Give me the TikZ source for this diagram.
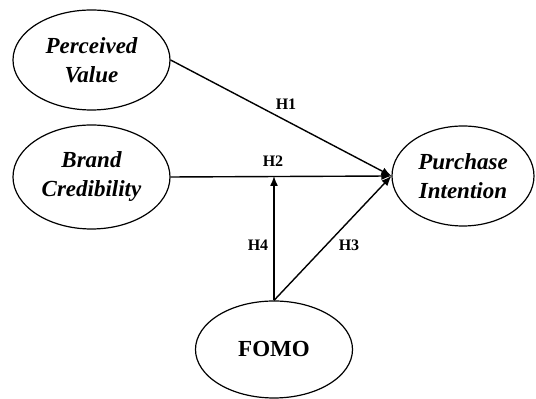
\documentclass[tikz,border=0pt]{standalone}
\usepackage{fontspec}
\setmainfont{Liberation Serif}
\usetikzlibrary{positioning, calc, arrows.meta, shapes.geometric}

\begin{document}
\begin{tikzpicture}[x=0.5pt, y=-0.5pt,
  construct/.style={draw, ellipse, inner sep=0pt, line width=0.6pt, align=center,
    font=\fontsize{11.5}{14.5}\selectfont\bfseries\itshape},
  hyp/.style={font=\fontsize{8}{9}\selectfont\bfseries},
  path/.style={line width=0.7pt, -{Latex[length=5pt, width=4pt]}}] % 1 px = 0.5 pt

\useasboundingbox (0,0) rectangle (536,399);

% constructs
\node[construct, minimum width=78.5pt, minimum height=50pt] (pv) at (91.5,60) {Perceived\\Value};
\node[construct, minimum width=78.5pt, minimum height=52pt] (bc) at (91.5,177) {Brand\\Credibility};
\node[construct, minimum width=71pt, minimum height=50pt] (pi) at (463,176) {Purchase\\Intention};
\node[construct, minimum width=78.5pt, minimum height=48.5pt, font=\fontsize{11.5}{14.5}\selectfont\bfseries] (fomo) at (274,349.5) {FOMO};

% paths
\coordinate (mod) at (fomo.north |- pi.west);
\draw[path] (pv.east) -- (pi.west);
\draw[path] (bc.east) -- (pi.west);
\draw[path] (fomo.north) -- (pi.west);
\draw[path] (fomo.north) -- (mod);

% hypotheses
\node[hyp] (h1) at (286,104) {H1};
\node[hyp] (h2) at (273,161) {H2};
\node[hyp] (h3) at (349,245) {H3};
\node[hyp] (h4) at (258,245) {H4};

\end{tikzpicture}
\end{document}
